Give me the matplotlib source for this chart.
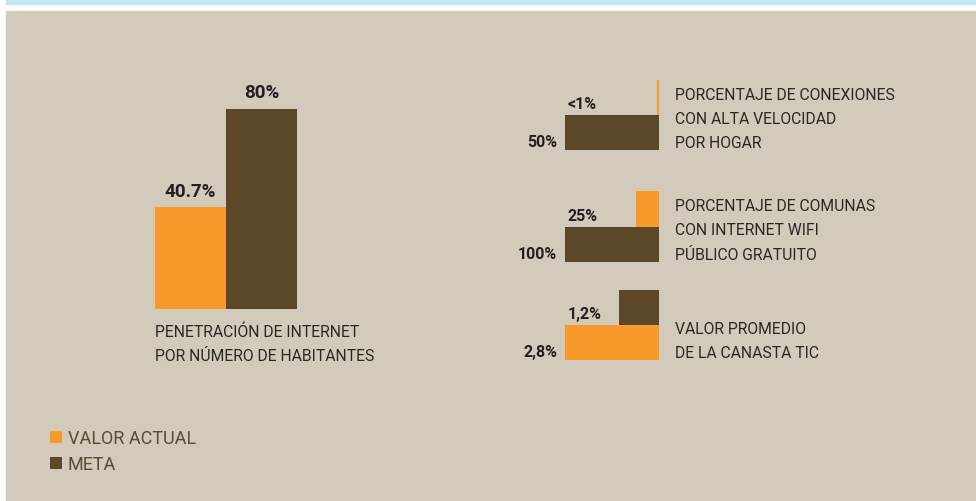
import matplotlib
matplotlib.use("Agg")
import matplotlib.pyplot as plt
from matplotlib.patches import Rectangle

plt.rcParams['font.family'] = ['Roboto', 'DejaVu Sans']

# ---------------- data ----------------
series_names = ["VALOR ACTUAL", "META"]
main_category = ["PENETRACIÓN DE INTERNET", "POR NÚMERO DE HABITANTES"]
main_values = [40.7, 80]
main_labels = ["40.7%", "80%"]

group_desc = [
    ["PORCENTAJE DE CONEXIONES", "CON ALTA VELOCIDAD", "POR HOGAR"],
    ["PORCENTAJE DE COMUNAS", "CON INTERNET WIFI", "PÚBLICO GRATUITO"],
    ["VALOR PROMEDIO", "DE LA CANASTA TIC"],
]
group_base_values = [50, 100, 2.8]
group_base_labels = ["50%", "100%", "2,8%"]
group_base_series = [1, 1, 0]      # index into series_names
group_top_values = [1, 25, 1.2]
group_top_labels = ["<1%", "25%", "1,2%"]
group_top_series = [0, 0, 1]

# ---------------- style ----------------
W, H = 976, 502
ORANGE = "#F7992B"
BROWN = "#5C4729"
BG = "#D2CBBB"
BLUE = "#C4E7F8"
DARK = "#231F20"
DESC = "#2A2826"
LEG = "#5B4A34"
colors = [ORANGE, BROWN]

fig = plt.figure(figsize=(W / 100, H / 100), dpi=100)
fig.patch.set_facecolor("white")


def box(x0, y0, x1, y1):
    """pixel box (top-left origin) -> figure fraction rect"""
    return [x0 / W, 1 - y1 / H, (x1 - x0) / W, (y1 - y0) / H]


fig.patches.append(Rectangle((6 / W, 1 - 5 / H), (W - 6) / W, 5 / H,
                             transform=fig.transFigure, color=BLUE, zorder=-10))
fig.patches.append(Rectangle((6 / W, 0), (W - 6) / W, (H - 12) / H,
                             transform=fig.transFigure, color=BG, zorder=-10))

PT = 72 / 100  # pixels -> points
DESC_FS = 11.3

# ---------------- main bar chart ----------------
ax = fig.add_axes(box(155, 60, 297, 310))
ax.set_xlim(0, 2)
ax.set_ylim(0, 100)
ax.axis("off")
handles = []
for i, (v, lab) in enumerate(zip(main_values, main_labels)):
    b = ax.bar([i], [v], width=1, align="edge", color=colors[i],
               label=series_names[i], linewidth=0)
    handles.append(b)
    ax.annotate(lab, xy=(i + 0.5, v), xytext=(0, 11.5 * PT), textcoords="offset points",
                ha="center", va="baseline", fontsize=13.5, fontweight="bold", color=DARK)
for k, line in enumerate(main_category):
    ax.annotate(line, xy=(0, 0), xytext=(0, -(27 + 24 * k) * PT), textcoords="offset points",
                ha="left", va="baseline", fontsize=DESC_FS, color=DESC)

# ---------------- right groups ----------------
group_boxes = [(565, 81, 659, 151), (565, 192, 659, 263), (565, 291, 659, 361)]
for g in range(3):
    gx = fig.add_axes(box(*group_boxes[g]))
    B = group_base_values[g]
    T = group_top_values[g]
    gx.set_xlim(0, B)
    gx.set_ylim(0, 2)
    gx.axis("off")
    gx.barh([0], [B], height=1, left=0, align="edge",
            color=colors[group_base_series[g]], linewidth=0)
    gx.barh([1], [T], height=1, left=B - T, align="edge",
            color=colors[group_top_series[g]], linewidth=0)
    gx.annotate(group_base_labels[g], xy=(0, 0.24), xytext=(-8 * PT, 0),
                textcoords="offset points", ha="right", va="center",
                fontsize=11.5, fontweight="bold", color=DARK)
    gx.annotate(group_top_labels[g], xy=(0, 1.32), xytext=(3 * PT, 0),
                textcoords="offset points", ha="left", va="center",
                fontsize=11.5, fontweight="bold", color=DARK)
    lines = group_desc[g]
    n = len(lines)
    for k, line in enumerate(lines):
        yk = 0.09 + 0.686 * (n - 1 - k)
        gx.annotate(line, xy=(B, yk), xytext=(16 * PT, 0), textcoords="offset points",
                    ha="left", va="baseline", fontsize=DESC_FS, color=DESC)

# ---------------- legend ----------------
leg = fig.legend(handles=handles, labels=series_names, loc="upper left",
                 bbox_to_anchor=(50 / W, 1 - 430 / H), frameon=False,
                 fontsize=13, handlelength=0.67, handleheight=0.67,
                 handletextpad=0.3, labelspacing=0.45, borderpad=0, borderaxespad=0)
for t in leg.get_texts():
    t.set_color(LEG)

fig.savefig("out.png", dpi=100, facecolor=fig.get_facecolor())
